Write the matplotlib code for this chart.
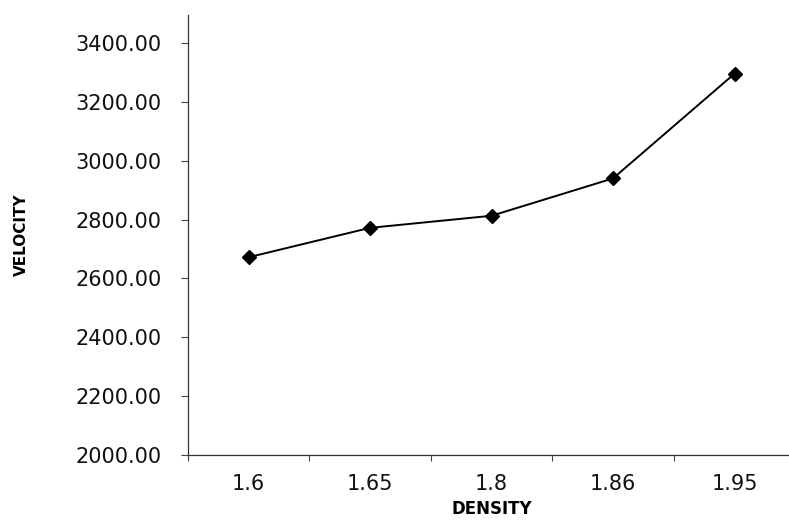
import numpy as np
import matplotlib
matplotlib.use("Agg")
import matplotlib.pyplot as plt

plt.rcParams['font.family'] = ['DejaVu Sans']

# data
density = ['1.6', '1.65', '1.8', '1.86', '1.95']
velocity = [2672, 2772, 2813, 2940, 3296]
yticks = [2000, 2200, 2400, 2600, 2800, 3000, 3200, 3400]

fig = plt.figure(figsize=(7.89, 5.2), dpi=100)
ax = fig.add_axes([0.238, 0.125, 0.77, 0.846])

x = np.arange(len(density))
ax.plot(x, velocity, color='black', lw=1.4, marker='D', ms=7, mfc='black', mec='black')

ax.set_xlim(-0.5, len(density) - 0.5)
ax.set_ylim(2000, 3495)
ax.set_yticks(yticks)
ax.set_yticklabels([f'{v:.2f}' for v in yticks])
ax.set_xticks(x)
ax.set_xticklabels(density)
ax.set_xticks(np.arange(len(density) + 1) - 0.5, minor=True)
ax.tick_params(axis='x', which='major', length=0, pad=14, labelsize=15, labelcolor='#111111')
ax.tick_params(axis='x', which='minor', length=4, width=0.8, color='#444444')
ax.tick_params(axis='y', length=5, width=0.8, color='#444444', labelsize=15, pad=14,
               labelcolor='#111111')

for s in ['top', 'right']:
    ax.spines[s].set_visible(False)
for s in ['left', 'bottom']:
    ax.spines[s].set_color('#333333')
    ax.spines[s].set_linewidth(0.9)

ax.set_xlabel('DENSITY', fontsize=12, fontweight='bold', labelpad=4)
ax.set_ylabel('VELOCITY', fontsize=11, fontweight='bold')
ax.yaxis.set_label_coords(-0.262, 0.5)

fig.savefig('out.png', dpi=100)
